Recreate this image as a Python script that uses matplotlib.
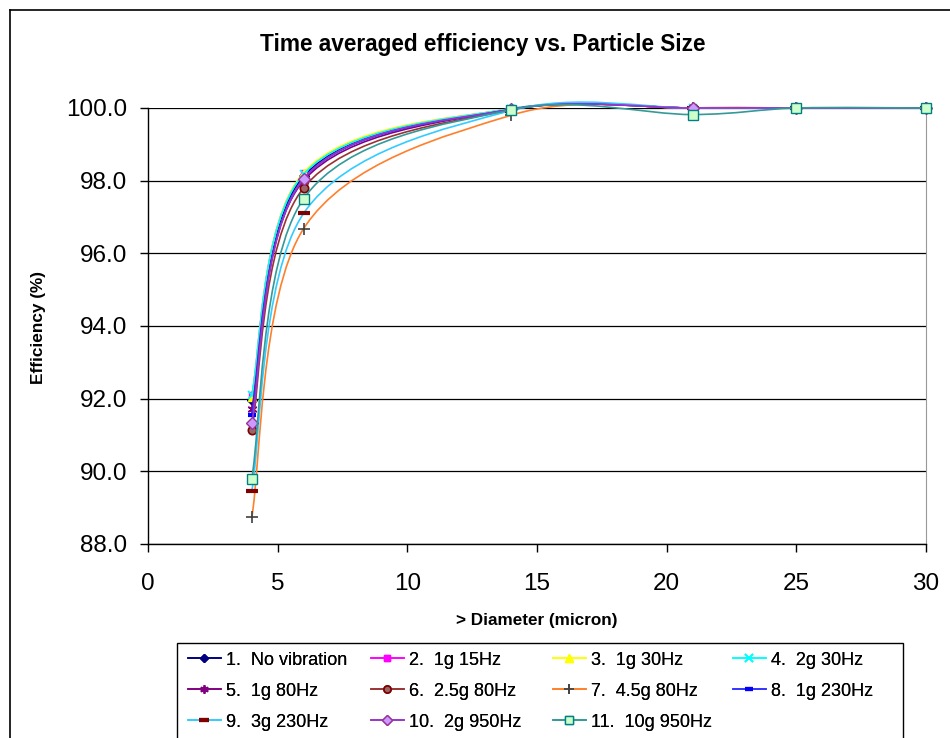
import matplotlib
matplotlib.use("Agg")
import matplotlib.pyplot as plt
from matplotlib.path import Path
from matplotlib.patches import PathPatch, Rectangle
from matplotlib.lines import Line2D

plt.rcParams['font.family'] = ['Liberation Sans', 'DejaVu Sans']

# Particle diameter (micron)
diameter = [4, 6, 14, 21, 25, 30]

# Time averaged efficiency (%) per vibration condition
eff_no_vib = [91.95, 98.12, 99.97, 100.0, 100.0, 100.0]
eff_1g_15 = [92.10, 98.20, 99.98, 100.0, 100.0, 100.0]
eff_1g_30 = [92.05, 98.22, 99.98, 100.0, 100.0, 100.0]
eff_2g_30 = [92.10, 98.18, 99.98, 100.0, 100.0, 100.0]
eff_1g_80 = [91.72, 98.00, 99.96, 100.0, 100.0, 100.0]
eff_2_5g_80 = [91.15, 97.80, 99.95, 100.0, 100.0, 100.0]
eff_4_5g_80 = [88.73, 96.68, 99.80, 100.0, 100.0, 100.0]
eff_1g_230 = [91.55, 98.05, 99.96, 100.0, 100.0, 100.0]
eff_3g_230 = [89.45, 97.10, 99.93, 100.0, 100.0, 100.0]
eff_2g_950 = [91.33, 98.05, 99.96, 100.0, 100.0, 100.0]
eff_10g_950 = [89.80, 97.50, 99.95, 99.82, 100.0, 100.0]

labels = ["1.  No vibration", "2.  1g 15Hz", "3.  1g 30Hz", "4.  2g 30Hz",
          "5.  1g 80Hz", "6.  2.5g 80Hz", "7.  4.5g 80Hz", "8.  1g 230Hz",
          "9.  3g 230Hz", "10.  2g 950Hz", "11.  10g 950Hz"]

series = [eff_no_vib, eff_1g_15, eff_1g_30, eff_2g_30, eff_1g_80, eff_2_5g_80,
          eff_4_5g_80, eff_1g_230, eff_3g_230, eff_2g_950, eff_10g_950]

# line colour, marker, marker face, marker edge, marker size, marker edge width
styles = [
    ("#000080", "D", "#000080", "#000080", 5, 1.0),
    ("#FF00FF", "s", "#FF00FF", "#FF00FF", 5, 1.0),
    ("#FFFF00", "^", "#FFFF00", "#FFFF00", 6, 1.0),
    ("#00FFFF", "x", "#00FFFF", "#00FFFF", 6, 1.3),
    ("#800080", (6, 2, 0), "#800080", "#800080", 7, 1.2),
    ("#993333", "o", "#996666", "#800000", 6, 1.2),
    ("#FF7F2A", "+", "#404040", "#404040", 9, 1.2),
    ("#3333FF", "_", "#0000FF", "#0000FF", 6, 3.0),
    ("#33CCFF", "_", "#800000", "#800000", 8, 3.0),
    ("#9933CC", "D", "#CC99FF", "#993399", 6, 1.0),
    ("#339999", "s", "#CCFFCC", "#008080", 7, 1.0),
]


def smooth_path(xs, ys):
    """Cubic Bezier path through the points (Catmull-Rom style tangents)."""
    pts = list(zip(xs, ys))
    n = len(pts)
    verts = [pts[0]]
    codes = [Path.MOVETO]
    for i in range(n - 1):
        p0 = pts[i - 1] if i > 0 else pts[i]
        p1 = pts[i]
        p2 = pts[i + 1]
        p3 = pts[i + 2] if i + 2 < n else pts[i + 1]
        c1 = (p1[0] + (p2[0] - p0[0]) / 6.0, p1[1] + (p2[1] - p0[1]) / 6.0)
        c2 = (p2[0] - (p3[0] - p1[0]) / 6.0, p2[1] - (p3[1] - p1[1]) / 6.0)
        verts += [c1, c2, p2]
        codes += [Path.CURVE4] * 3
    return Path(verts, codes)


fig = plt.figure(figsize=(9.5, 7.38), dpi=100)
W, H = 950.0, 738.0
ax = fig.add_axes([148 / W, 1 - 544 / H, (926 - 148) / W, (544 - 108) / H])

ax.set_xlim(0, 30)
ax.set_ylim(88, 100)
ax.set_xticks([0, 5, 10, 15, 20, 25, 30])
ax.set_yticks([88, 90, 92, 94, 96, 98, 100])
ax.set_yticklabels([f"{v:.1f}" for v in ax.get_yticks()])
ax.tick_params(axis='both', direction='out', labelsize=17.5, length=6,
               width=1, color='black')
ax.tick_params(axis='y', pad=9)
ax.tick_params(axis='x', pad=15)
ax.grid(axis='y', color='black', linewidth=0.9)
ax.set_axisbelow(True)
ax.spines['right'].set_color('#999999')
ax.spines['top'].set_visible(False)
for side in ('left', 'bottom'):
    ax.spines[side].set_color('black')
    ax.spines[side].set_linewidth(1.0)

handles = []
for k, (vals, lab, st) in enumerate(zip(series, labels, styles)):
    lc, mk, mfc, mec, ms, mew = st
    patch = PathPatch(smooth_path(diameter, vals), facecolor='none',
                      edgecolor=lc, linewidth=1.2, zorder=3 + 2 * k,
                      clip_on=False)
    ax.add_patch(patch)
    ax.plot(diameter, vals, linestyle='none', marker=mk, markersize=ms,
            markerfacecolor=mfc, markeredgecolor=mec, markeredgewidth=mew,
            zorder=4 + 2 * k, clip_on=False)
    handles.append(Line2D([], [], color=lc, linewidth=1.2, marker=mk,
                          markersize=ms * 0.85, markerfacecolor=mfc,
                          markeredgecolor=mec, markeredgewidth=mew,
                          label=lab))

fig.text(483 / W, 1 - 44 / H, "Time averaged efficiency vs. Particle Size",
         ha='center', va='center', fontsize=16.3, fontweight='bold')
fig.text(38 / W, 1 - 327 / H, "Efficiency (%)", rotation=90, ha='center',
         va='center', fontsize=12.4, fontweight='bold')
fig.text(537 / W, 1 - 621 / H, "> Diameter (micron)", ha='center',
         va='center', fontsize=12.3, fontweight='bold')

# Chart area border (left and top edges)
fig.add_artist(Line2D([10 / W, 10 / W], [0, 1 - 10 / H], color='black', lw=1.2))
fig.add_artist(Line2D([10 / W, 1], [1 - 10 / H, 1 - 10 / H], color='black', lw=1.2))

# Legend frame
fig.add_artist(Rectangle((177 / W, -0.01), (903 - 177) / W, (0.01 + 1 - 643 / H),
                         transform=fig.transFigure, facecolor='white',
                         edgecolor='black', linewidth=1.0))

# Legend: four equal-width columns, row-major order
col_x = [184, 367, 549, 729]
for c in range(4):
    col_handles = handles[c::4]
    leg = fig.legend(handles=col_handles, loc='upper left',
                     bbox_to_anchor=(col_x[c] / W, 1 - 648 / H),
                     frameon=False, fontsize=13, handlelength=1.85,
                     handletextpad=0.3, labelspacing=0.78, borderpad=0.2,
                     borderaxespad=0)
    fig.add_artist(leg)

fig.savefig("out.png", dpi=100)
